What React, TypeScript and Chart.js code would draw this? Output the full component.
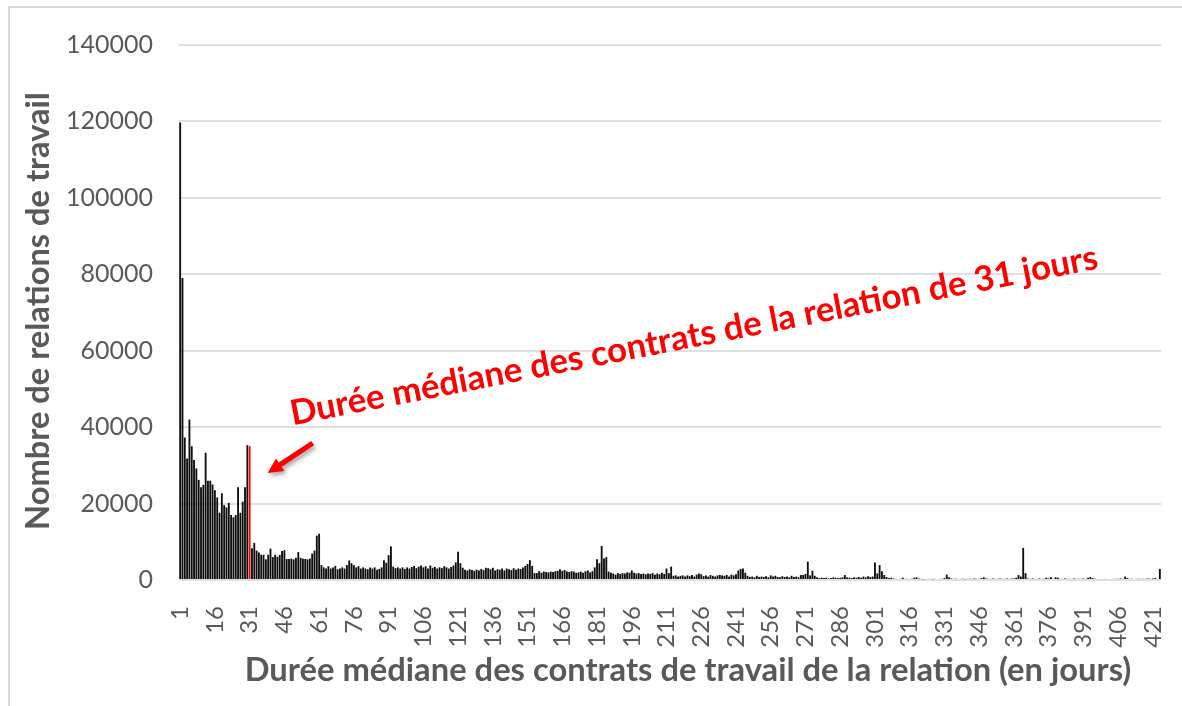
import React, { useEffect, useRef } from 'react';
import { Chart, registerables } from 'chart.js';

Chart.register(...registerables);

// Nombre de relations de travail par durée médiane (jours 1..424)
const days1to31 = [119700, 79000, 37300, 31800, 42000, 35000, 31400, 29200, 26200, 24300,
  24900, 33300, 26000, 26000, 25000, 23500, 21600, 17600, 22700, 19600,
  19000, 20200, 17000, 16400, 17000, 24300, 17600, 20500, 24300, 35300, 35000];
const days32to61 = [8300, 9700, 7700, 7200, 6600, 6600, 5400, 6600, 8200, 6000,
  6600, 6100, 6600, 7600, 7800, 5500, 5500, 5600, 5400, 5800,
  7300, 5800, 5600, 5500, 5400, 5600, 6900, 7700, 11600, 12100];
const days62to93 = [3900, 3300, 3000, 3600, 3000, 3300, 3700, 2800, 3000, 3300,
  3000, 3900, 5100, 4400, 3900, 3300, 3600, 3000, 3300, 3000,
  2800, 3300, 3000, 3300, 2700, 2900, 3300, 5200, 4500, 6500,
  8800, 3500];
const days94to123 = [3100, 3300, 3000, 3300, 2900, 3300, 3000, 3400, 3700, 3100,
  3500, 3800, 3300, 3600, 3000, 3800, 3200, 3400, 3000, 3300,
  3100, 3600, 3300, 3000, 3400, 3800, 4600, 7400, 4400, 3200];
const days124to153 = [2700, 2500, 2800, 2600, 2400, 2700, 2500, 2900, 2600, 3200,
  3100, 2800, 3200, 2500, 2800, 2700, 3000, 2500, 3000, 2800,
  2600, 3100, 2700, 3000, 2900, 3300, 3700, 4200, 5200, 3700];
const days154to186 = [1800, 1800, 2300, 1900, 2200, 2100, 2000, 2200, 2100, 2300,
  2400, 2800, 2400, 2600, 2200, 2100, 2300, 2200, 1900, 2000,
  2200, 1900, 2300, 2500, 2000, 2300, 3300, 5400, 4400, 8900,
  5600, 6000, 2200];
const days187to213 = [1900, 1700, 1400, 1800, 1600, 1800, 1700, 2000, 1900, 2500,
  1900, 1700, 1800, 1600, 1700, 1500, 1700, 1600, 1800, 1400,
  1700, 1500, 1900, 1600, 3000, 1800, 3500];
const days214to245 = [1100, 1200, 900, 1100, 1200, 900, 1200, 1000, 1300, 900,
  1400, 1700, 1500, 1000, 1200, 900, 1300, 1100, 900, 1200,
  1300, 1200, 1100, 1300, 900, 1400, 1200, 1500, 2500, 2900,
  3000, 1900];
const days246to275 = [1100, 800, 900, 700, 1100, 800, 900, 800, 1000, 700,
  1200, 900, 1100, 800, 700, 1000, 800, 900, 700, 1100,
  800, 900, 700, 1300, 1300, 1600, 4800, 1200, 2400, 1100];
const days276to306 = [700, 500, 600, 500, 600, 400, 500, 700, 600, 500,
  600, 700, 1300, 700, 600, 500, 700, 600, 800, 600,
  900, 700, 1000, 800, 900, 4600, 1700, 3900, 2300, 1300,
  800];
const days307to341 = [500, 600, 400, 300, 0, 300, 600, 300, 300, 0,
  300, 600, 700, 400, 300, 200, 0, 300, 300, 200,
  300, 0, 300, 300, 500, 1400, 700, 400, 300, 300,
  0, 300, 300, 200, 300];
const days342to424 = [300, 300, 400, 300, 300, 500, 700, 400, 300, 300,
  400, 300, 300, 400, 300, 300, 400, 300, 400, 400,
  600, 1300, 900, 8400, 1800, 400, 300, 400, 300, 300,
  400, 300, 300, 600, 400, 700, 300, 700, 600, 300,
  300, 400, 300, 300, 300, 400, 300, 300, 300, 400,
  300, 600, 800, 500, 300, 0, 0, 0, 300, 0,
  0, 0, 300, 300, 300, 400, 300, 900, 500, 300,
  300, 0, 300, 300, 300, 300, 300, 400, 300, 400,
  500, 300, 2900];

const medianDay = 31;
const labelEvery = 15;
const yMin = 0;
const yMax = 140000;
const yStep = 20000;

const xTitle = 'Durée médiane des contrats de travail de la relation (en jours)';
const yTitle = 'Nombre de relations de travail';
const annotationText = 'Durée médiane des contrats de la relation de 31 jours';

const GRAY = '#595959';
const RED = '#ff0000';
const FONT = 'Lato';

function fitSize(text: string, weight: string, target: number): number {
  const c = document.createElement('canvas').getContext('2d')!;
  c.font = `${weight} 100px ${FONT}`;
  const w = c.measureText(text).width;
  return (100 * target) / w;
}

export default function App() {
  const ref = useRef<HTMLCanvasElement>(null);

  useEffect(() => {
    const values = [
      ...days1to31, ...days32to61, ...days62to93, ...days94to123, ...days124to153,
      ...days154to186, ...days187to213, ...days214to245, ...days246to275,
      ...days276to306, ...days307to341, ...days342to424,
    ];
    const labels = values.map((_, i) => String(i + 1));
    const colors = labels.map((l) => (Number(l) === medianDay ? RED : '#0d0d0d'));

    const xTitleSize = fitSize(xTitle, 'bold', 887);
    const yTitleSize = fitSize(yTitle, 'bold', 438);
    const annSize = fitSize(annotationText, 'bold', 822);

    const decor = {
      id: 'decor',
      beforeDraw(chart: any) {
        const ctx = chart.ctx;
        ctx.save();
        ctx.fillStyle = '#d9d9d9';
        ctx.fillRect(8, 6, chart.width - 8, 2);
        ctx.fillRect(8, 6, 2, chart.height - 6);
        ctx.restore();
      },
      afterDraw(chart: any) {
        const ctx = chart.ctx;
        const xs = chart.scales.x;
        const ys = chart.scales.y;
        ctx.save();
        // axis titles
        ctx.fillStyle = GRAY;
        ctx.font = `bold ${xTitleSize}px ${FONT}`;
        ctx.textAlign = 'center';
        ctx.textBaseline = 'alphabetic';
        ctx.fillText(xTitle, 688, 681);
        ctx.save();
        ctx.translate(49, 311);
        ctx.rotate(-Math.PI / 2);
        ctx.font = `bold ${yTitleSize}px ${FONT}`;
        ctx.fillText(yTitle, 0, 0);
        ctx.restore();

        // annotation text
        const medX = xs.getPixelForValue(medianDay - 1);
        const sx = medX + 43;
        const sy = ys.getPixelForValue(40500);
        ctx.save();
        ctx.translate(sx, sy);
        ctx.rotate(Math.atan2(-157, 807));
        ctx.fillStyle = RED;
        ctx.font = `bold ${annSize}px ${FONT}`;
        ctx.textAlign = 'left';
        ctx.fillText(annotationText, 0, 0);
        ctx.restore();

        // arrow
        const tip = { x: medX + 18, y: ys.getPixelForValue(28000) };
        const tail = { x: medX + 63, y: ys.getPixelForValue(35800) };
        const dx = tip.x - tail.x;
        const dy = tip.y - tail.y;
        const len = Math.hypot(dx, dy);
        const ux = dx / len, uy = dy / len;
        const nx = -uy, ny = ux;
        const hw = 2.6, HW = 7.5, hl = 15;
        const bx = tip.x - ux * hl, by = tip.y - uy * hl;
        ctx.beginPath();
        ctx.moveTo(tail.x + nx * hw, tail.y + ny * hw);
        ctx.lineTo(bx + nx * hw, by + ny * hw);
        ctx.lineTo(bx + nx * HW, by + ny * HW);
        ctx.lineTo(tip.x, tip.y);
        ctx.lineTo(bx - nx * HW, by - ny * HW);
        ctx.lineTo(bx - nx * hw, by - ny * hw);
        ctx.lineTo(tail.x - nx * hw, tail.y - ny * hw);
        ctx.closePath();
        ctx.shadowColor = 'rgba(0,0,0,0.35)';
        ctx.shadowBlur = 4;
        ctx.shadowOffsetX = 2;
        ctx.shadowOffsetY = 3;
        ctx.fillStyle = RED;
        ctx.fill();
        ctx.restore();
      },
    };

    const chart = new Chart(ref.current!, {
      type: 'bar',
      data: {
        labels,
        datasets: [
          {
            data: values,
            backgroundColor: colors,
            borderWidth: 0,
            barPercentage: 0.8,
            categoryPercentage: 1,
          },
        ],
      },
      options: {
        animation: false,
        responsive: true,
        maintainAspectRatio: false,
        layout: { padding: { left: 0, right: 21, top: 45, bottom: 0 } },
        plugins: {
          legend: { display: false },
          tooltip: { enabled: false },
        },
        scales: {
          x: {
            grid: { display: false },
            border: { display: false },
            afterFit: (s: any) => {
              s.height = 126;
              s.paddingLeft = 0;
              s.paddingRight = 0;
            },
            ticks: {
              autoSkip: false,
              minRotation: 90,
              maxRotation: 90,
              padding: 18,
              color: GRAY,
              font: { family: FONT, size: 24 },
              callback: (_v: any, i: number) => (i % labelEvery === 0 ? labels[i] : ''),
            },
          },
          y: {
            min: yMin,
            max: yMax,
            afterFit: (s: any) => {
              s.width = 179;
            },
            border: { display: false },
            grid: { color: '#e0e0e0', lineWidth: 2, drawTicks: false },
            ticks: {
              stepSize: yStep,
              padding: 26,
              color: GRAY,
              font: { family: FONT, size: 25 },
              callback: (v: any) => String(v),
            },
          },
        },
      },
      plugins: [decor],
    });
    return () => chart.destroy();
  }, []);

  return (
    <div style={{ position: 'absolute', left: 0, top: 0, width: 1182, height: 706 }}>
      <canvas ref={ref} />
    </div>
  );
}
